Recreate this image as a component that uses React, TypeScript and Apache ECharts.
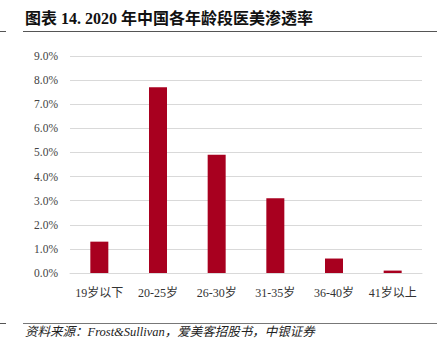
import React, { useEffect, useRef } from "react";
import * as echarts from "echarts";

const categories = ["19岁以下", "20-25岁", "26-30岁", "31-35岁", "36-40岁", "41岁以上"];
const penetration = [1.3, 7.7, 4.9, 3.1, 0.6, 0.1];
const titleText = "图表 14. 2020 年中国各年龄段医美渗透率";
const sourceText = "资料来源：Frost&Sullivan，爱美客招股书，中银证券";

const SERIF = "'Liberation Serif', 'Noto Sans CJK SC', serif";

export default function App() {
  const ref = useRef<HTMLDivElement>(null);
  useEffect(() => {
    if (!ref.current) return;
    const chart = echarts.init(ref.current, null, { renderer: "svg" });
    chart.setOption({
      animation: false,
      backgroundColor: "#ffffff",
      grid: { left: 70, right: 18, top: 56, bottom: 82 },
      xAxis: {
        type: "category",
        data: categories,
        axisTick: { show: false },
        axisLine: { lineStyle: { color: "#d9d9d9", width: 1 } },
        axisLabel: { color: "#333", fontSize: 12, fontFamily: SERIF, margin: 14, interval: 0 },
      },
      yAxis: {
        type: "value",
        min: 0,
        max: 9,
        interval: 1,
        axisLine: { show: false },
        axisTick: { show: false },
        splitLine: { lineStyle: { color: "#d9d9d9", width: 1 } },
        axisLabel: {
          color: "#444",
          fontSize: 11.5,
          fontFamily: SERIF,
          margin: 12,
          formatter: (v: number) => v.toFixed(1) + "%",
        },
      },
      series: [
        {
          type: "bar",
          data: penetration,
          barWidth: 18,
          itemStyle: { color: "#a8001f" },
        },
      ],
      graphic: [
        {
          type: "text",
          left: 25,
          top: 10,
          style: {
            text: titleText,
            font: "bold 16px 'Liberation Serif', 'Noto Sans CJK SC', serif",
            fill: "#111",
          },
        },
        { type: "line", shape: { x1: 0, y1: 31.5, x2: 6, y2: 31.5 }, style: { stroke: "#555", lineWidth: 1 } },
        { type: "line", shape: { x1: 23, y1: 31.5, x2: 437, y2: 31.5 }, style: { stroke: "#555", lineWidth: 1 } },
        { type: "line", shape: { x1: 0, y1: 323.5, x2: 6, y2: 323.5 }, style: { stroke: "#555", lineWidth: 1 } },
        { type: "line", shape: { x1: 23, y1: 323.5, x2: 437, y2: 323.5 }, style: { stroke: "#777", lineWidth: 1 } },
        {
          type: "text",
          left: 25,
          top: 326,
          style: {
            text: sourceText,
            font: "italic 12.5px 'Liberation Serif', 'Noto Sans CJK SC', serif",
            fill: "#222",
          },
        },
      ],
    });
    return () => chart.dispose();
  }, []);
  return (
    <div
      ref={ref}
      style={{ position: "absolute", left: 0, top: 0, width: 440, height: 355 }}
    />
  );
}
